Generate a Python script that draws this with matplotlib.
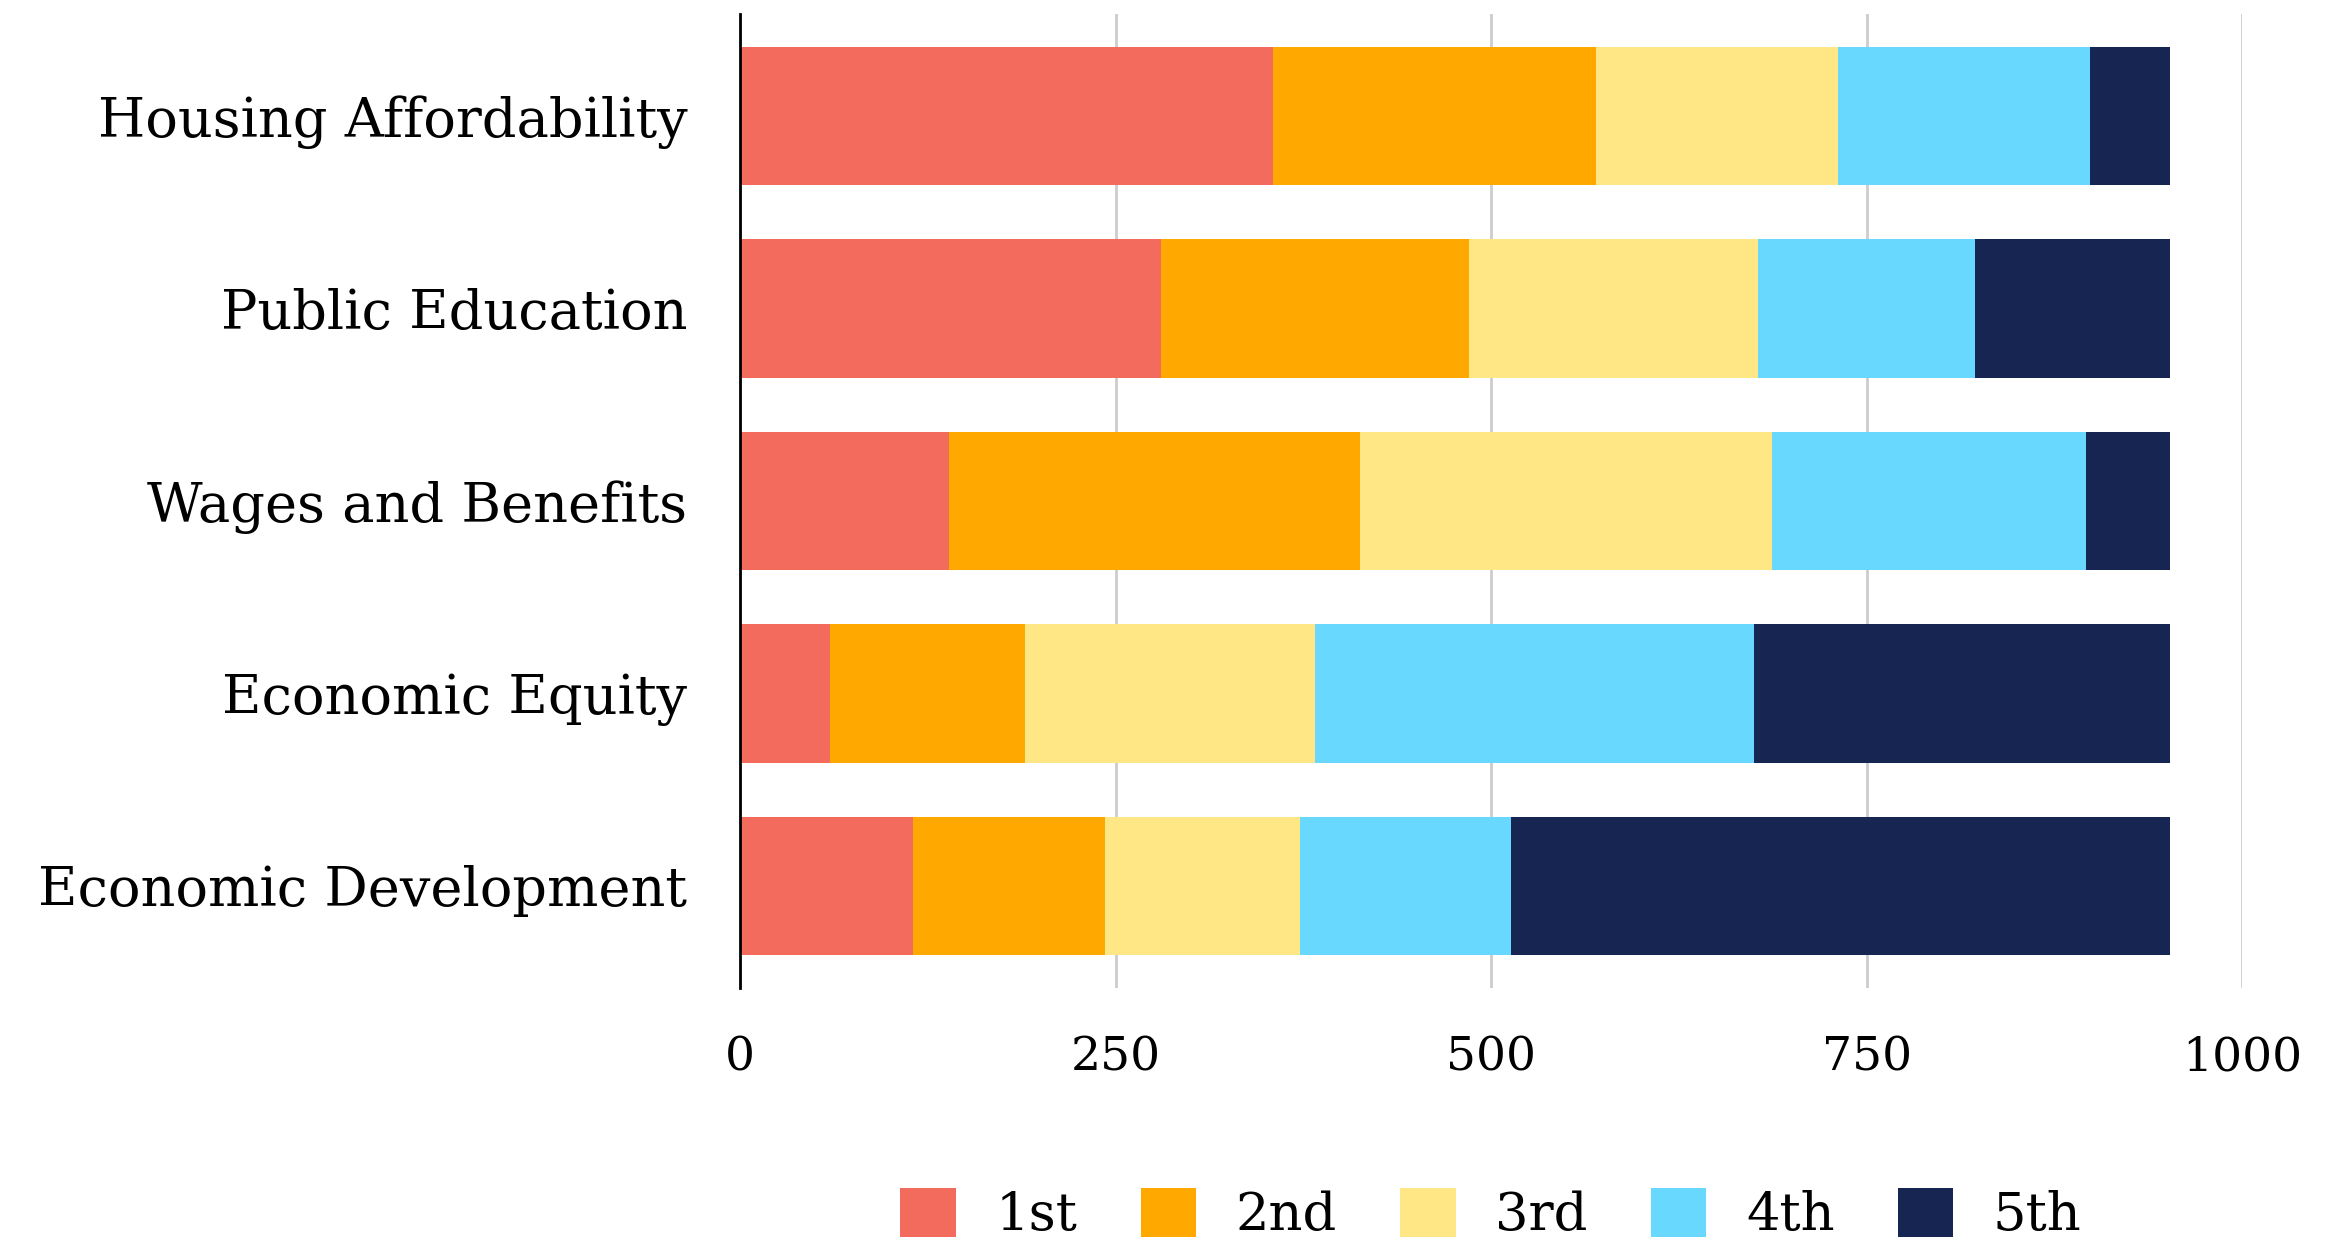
import matplotlib
matplotlib.use('Agg')
import matplotlib.pyplot as plt
import numpy as np

categories = ["Housing Affordability", "Public Education", "Wages and Benefits",
              "Economic Equity", "Economic Development"]
series_names = ["1st", "2nd", "3rd", "4th", "5th"]
first = [355, 280, 139, 60, 115]
second = [215, 205, 274, 130, 128]
third = [161, 193, 274, 193, 130]
fourth = [168, 144, 209, 292, 140]
fifth = [53, 130, 56, 277, 439]
colors = ["#F26B5D", "#FFA900", "#FFE786", "#68D8FE", "#172552"]
xticks = [0, 250, 500, 750, 1000]

plt.rcParams['font.family'] = ['DejaVu Serif']

fig = plt.figure(figsize=(23.51, 12.47), dpi=100)
ax = fig.add_axes([0.3148, 0.2077, 0.6389, 0.7811])

y = np.arange(len(categories))
left = np.zeros(len(categories))
for name, vals, c in zip(series_names, [first, second, third, fourth, fifth], colors):
    ax.barh(y, vals, left=left, height=0.72, color=c, label=name, zorder=3)
    left += np.array(vals)

ax.set_xlim(0, 1000)
ax.set_ylim(4.53, -0.53)
ax.set_yticks(y)
ax.set_yticklabels(categories, fontsize=39)
ax.set_xticks(xticks)
ax.set_xticklabels([str(t) for t in xticks], fontsize=34)
ax.tick_params(axis='both', length=0)
ax.tick_params(axis='y', pad=38)
ax.tick_params(axis='x', pad=34)
ax.grid(axis='x', color='#CCCCCC', linewidth=2, zorder=0)
for s in ['top', 'right', 'bottom']:
    ax.spines[s].set_visible(False)
ax.spines['left'].set_linewidth(2)
ax.spines['left'].set_color('black')
ax.spines['left'].set_zorder(4)

leg = fig.legend(loc='center', bbox_to_anchor=(0.6342, 0.026), ncol=5, frameon=False,
                 fontsize=38, handlelength=1.05, handleheight=1.05, columnspacing=1.2,
                 handletextpad=0.75)

plt.savefig("out.png", dpi=100)
plt.close()
